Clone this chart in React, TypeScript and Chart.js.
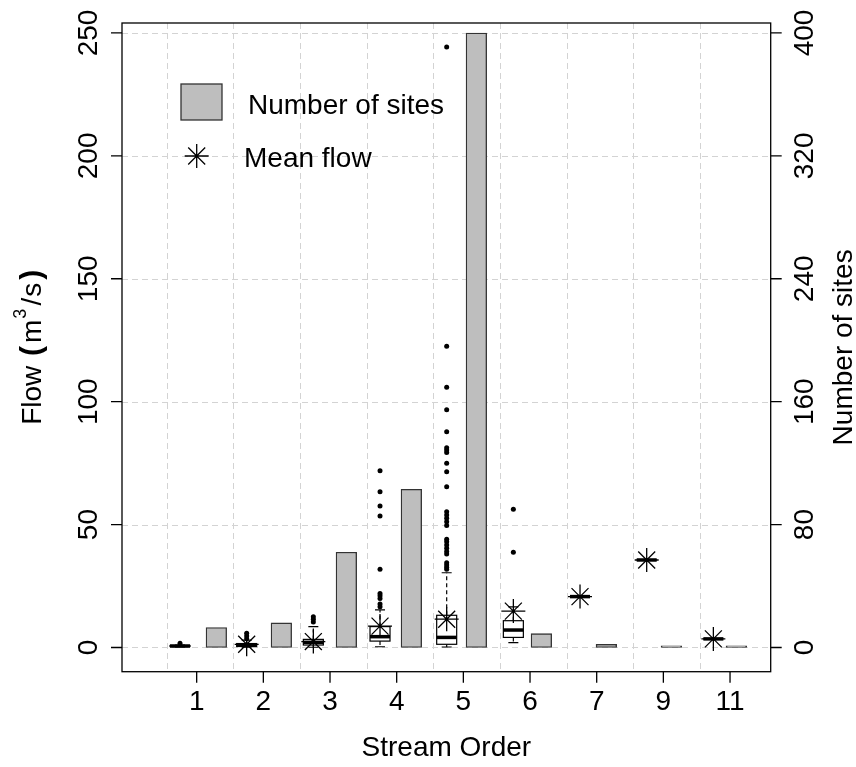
import React, { useEffect, useRef } from 'react';
import { Chart, registerables } from 'chart.js';

Chart.register(...registerables);

// ---------- data ----------
const categories = ['1', '2', '3', '4', '5', '6', '7', '9', '11'];
const siteCounts = [13, 16, 62, 103, 400, 9, 2, 1, 1];
const meanFlow: (number | null)[] = [null, 1.3, 2.4, 8.7, 11.5, 14.8, 20.7, 35.6, 3.5];
const whiskerLow = [0.2, 0.1, 0.1, 0.3, 0.2, 2.0, 20.7, 35.6, 3.5];
const quartile1 = [0.4, 0.4, 1.0, 2.6, 1.3, 4.1, 20.7, 35.6, 3.5];
const medianFlow = [0.6, 0.9, 2.1, 4.4, 4.1, 7.1, 20.7, 35.6, 3.5];
const quartile3 = [0.8, 1.6, 3.3, 8.5, 13.1, 10.9, 20.7, 35.6, 3.5];
const whiskerHigh = [1.0, 3.0, 8.5, 15.3, 30.4, 16.5, 20.7, 35.6, 3.5];
const outliers: number[][] = [
  [1.7],
  [3.6, 4.7, 5.8],
  [10.4, 11.5, 12.5],
  [16.6, 17.7, 19.9, 21.0, 22.0, 31.8, 53.5, 57.6, 63.4, 71.9],
  [31.8, 32.6, 33.6, 34.5, 38.0, 39.0, 40.4, 41.7, 43.0, 44.0, 49.6, 51.2, 52.6, 53.9, 55.2,
    65.4, 71.5, 74.9, 79.3, 80.3, 81.3, 87.8, 96.7, 105.9, 122.5, 244.3],
  [38.7, 56.2],
  [],
  [],
  [],
];
const flowTicks = [0, 50, 100, 150, 200, 250];
const siteTicks = [0, 80, 160, 240, 320, 400];
const gridX = [0, 1, 2, 3, 4, 5, 6, 7, 8];

// ---------- layout helpers ----------
const boxX = (i: number) => i + 0.2;
const barX = (i: number) => 0.745 + i * 0.975;
const tickX = (i: number) => i + 0.45;

const FONT = '"Liberation Sans", Arial, Helvetica, sans-serif';
const FS = 28;

function rotText(ctx: CanvasRenderingContext2D, text: string, x: number, y: number) {
  ctx.save();
  ctx.translate(x, y);
  ctx.rotate(-Math.PI / 2);
  ctx.textAlign = 'center';
  ctx.textBaseline = 'alphabetic';
  ctx.fillText(text, 0, 0);
  ctx.restore();
}

const gridPlugin = {
  id: 'rgrid',
  beforeDatasetsDraw(chart: any) {
    const { ctx, chartArea: a, scales } = chart;
    const x = scales.x, y = scales.y;
    ctx.save();
    ctx.strokeStyle = '#d3d3d3';
    ctx.lineWidth = 1;
    ctx.setLineDash([6, 4]);
    for (const v of flowTicks) {
      const py = Math.round(y.getPixelForValue(v)) + 0.5;
      ctx.beginPath();
      ctx.moveTo(a.left, py);
      ctx.lineTo(a.right, py);
      ctx.stroke();
    }
    for (const v of gridX) {
      const px = Math.round(x.getPixelForValue(v)) + 0.5;
      ctx.beginPath();
      ctx.moveTo(px, a.top);
      ctx.lineTo(px, a.bottom);
      ctx.stroke();
    }
    ctx.restore();
  },
};

const boxPlugin = {
  id: 'rbox',
  afterDatasetDraw(chart: any, args: any) {
    if (args.meta.type !== 'bar') return;
    const { ctx, scales } = chart;
    const x = scales.x, y = scales.y;
    ctx.save();
    ctx.strokeStyle = '#000';
    for (let i = 0; i < categories.length; i++) {
      const cx = x.getPixelForValue(boxX(i));
      const lo = y.getPixelForValue(whiskerLow[i]);
      const q1 = y.getPixelForValue(quartile1[i]);
      const md = y.getPixelForValue(medianFlow[i]);
      const q3 = y.getPixelForValue(quartile3[i]);
      const hi = y.getPixelForValue(whiskerHigh[i]);
      ctx.lineWidth = 1.2;
      ctx.setLineDash([4, 3]);
      ctx.beginPath();
      ctx.moveTo(cx, q3); ctx.lineTo(cx, hi);
      ctx.moveTo(cx, q1); ctx.lineTo(cx, lo);
      ctx.stroke();
      ctx.setLineDash([]);
      ctx.beginPath();
      ctx.moveTo(cx - 5, hi); ctx.lineTo(cx + 5, hi);
      ctx.moveTo(cx - 5, lo); ctx.lineTo(cx + 5, lo);
      ctx.stroke();
      ctx.fillStyle = '#fff';
      ctx.fillRect(cx - 10, q3, 20, q1 - q3);
      ctx.strokeRect(cx - 10, q3, 20, q1 - q3);
      ctx.lineWidth = 3.5;
      ctx.beginPath();
      ctx.moveTo(cx - 10, md); ctx.lineTo(cx + 10, md);
      ctx.stroke();
    }
    ctx.restore();
  },
};

const axesPlugin = {
  id: 'raxes',
  afterDraw(chart: any) {
    const { ctx, chartArea: a, scales } = chart;
    const x = scales.x, y = scales.y, y2 = scales.y2;
    ctx.save();
    ctx.strokeStyle = '#000';
    ctx.fillStyle = '#000';
    ctx.lineWidth = 1.3;
    ctx.setLineDash([]);
    ctx.strokeRect(a.left, a.top, a.right - a.left, a.bottom - a.top);
    ctx.font = `${FS}px ${FONT}`;
    ctx.beginPath();
    for (const v of flowTicks) {
      const py = y.getPixelForValue(v);
      ctx.moveTo(a.left - 11, py); ctx.lineTo(a.left, py);
    }
    for (const v of siteTicks) {
      const py = y2.getPixelForValue(v);
      ctx.moveTo(a.right, py); ctx.lineTo(a.right + 11, py);
    }
    for (let i = 0; i < categories.length; i++) {
      const px = x.getPixelForValue(tickX(i));
      ctx.moveTo(px, a.bottom); ctx.lineTo(px, a.bottom + 11);
    }
    ctx.stroke();
    for (const v of flowTicks) rotText(ctx, String(v), a.left - 25.5, y.getPixelForValue(v));
    for (const v of siteTicks) rotText(ctx, String(v), a.right + 42, y2.getPixelForValue(v));
    ctx.textAlign = 'center';
    ctx.textBaseline = 'alphabetic';
    for (let i = 0; i < categories.length; i++) {
      ctx.fillText(categories[i], x.getPixelForValue(tickX(i)), a.bottom + 38);
    }
    const cxMid = (a.left + a.right) / 2;
    const cyMid = (a.top + a.bottom) / 2;
    ctx.fillText('Stream Order', cxMid, a.bottom + 84);
    rotText(ctx, 'Number of sites', a.right + 81, cyMid);

    // left title "Flow (m^3/s)" in pieces
    const normal = `${FS}px ${FONT}`;
    const paren = `bold 30px ${FONT}`;
    const supF = `18px ${FONT}`;
    const pieces: [string, string, number, number][] = [
      // text, font, raise, gap after
      ['Flow', normal, 0, 0],
      [' ', normal, 0, 2],
      ['(', paren, 0, 3],
      ['m', normal, 0, 1],
      ['3', supF, -15, 3],
      ['/', normal, 0, 1],
      ['s', normal, 0, 3],
      [')', paren, 0, 0],
    ];
    let total = 0;
    const widths: number[] = [];
    for (const [t, f, , g] of pieces) {
      ctx.font = f;
      const w = ctx.measureText(t).width;
      widths.push(w);
      total += w + g;
    }
    ctx.save();
    ctx.translate(41, cyMid);
    ctx.rotate(-Math.PI / 2);
    ctx.textAlign = 'left';
    ctx.textBaseline = 'alphabetic';
    let sx = -total / 2;
    pieces.forEach(([t, f, raise, g], k) => {
      ctx.font = f;
      ctx.fillText(t, sx, raise);
      sx += widths[k] + g;
    });
    ctx.restore();

    // legend
    ctx.font = normal;
    ctx.textAlign = 'left';
    ctx.fillStyle = '#bebebe';
    ctx.fillRect(181, 84, 41, 36);
    ctx.strokeStyle = '#333';
    ctx.lineWidth = 1.3;
    ctx.strokeRect(181, 84, 41, 36);
    ctx.fillStyle = '#000';
    ctx.fillText('Number of sites', 248, 113.5);
    ctx.fillText('Mean flow', 244, 166.5);
    const sxs = 196.7, sys = 156, r = 12;
    ctx.strokeStyle = '#000';
    ctx.lineWidth = 1.3;
    ctx.beginPath();
    for (let k = 0; k < 4; k++) {
      const ang = (k * Math.PI) / 4;
      ctx.moveTo(sxs - Math.cos(ang) * r, sys - Math.sin(ang) * r);
      ctx.lineTo(sxs + Math.cos(ang) * r, sys + Math.sin(ang) * r);
    }
    ctx.stroke();
    ctx.restore();
  },
};

export default function App() {
  const ref = useRef<HTMLCanvasElement | null>(null);
  useEffect(() => {
    if (!ref.current) return;
    const barData = siteCounts.map((v, i) => ({ x: barX(i), y: v }));
    const outlierData: { x: number; y: number }[] = [];
    outliers.forEach((arr, i) => arr.forEach((v) => outlierData.push({ x: boxX(i), y: v })));
    const meanData = meanFlow
      .map((v, i) => (v === null ? null : { x: boxX(i), y: v }))
      .filter((p) => p !== null) as { x: number; y: number }[];

    const chart = new Chart(ref.current, {
      type: 'bar',
      data: {
        datasets: [
          {
            type: 'bar',
            label: 'Number of sites',
            data: barData as any,
            yAxisID: 'y2',
            xAxisID: 'x',
            backgroundColor: '#bebebe',
            borderColor: '#333',
            borderWidth: 1.3,
            borderSkipped: false,
            barThickness: 20.6,
            order: 3,
          } as any,
          {
            type: 'scatter',
            label: 'Outliers',
            data: outlierData,
            yAxisID: 'y',
            xAxisID: 'x',
            pointStyle: 'circle',
            pointRadius: 2.5,
            backgroundColor: '#000',
            borderColor: '#000',
            borderWidth: 0,
            order: 2,
          } as any,
          {
            type: 'scatter',
            label: 'Mean flow',
            data: meanData,
            yAxisID: 'y',
            xAxisID: 'x',
            pointStyle: 'star',
            pointRadius: 12,
            borderColor: '#000',
            backgroundColor: '#000',
            borderWidth: 1.3,
            order: 1,
          } as any,
        ],
      },
      options: {
        animation: false,
        responsive: false,
        layout: { padding: { left: 122, right: 85.3, top: 23, bottom: 95.3 } },
        plugins: { legend: { display: false }, tooltip: { enabled: false } },
        events: [],
        scales: {
          x: { type: 'linear', display: false, min: -0.67, max: 9.06, offset: false, grid: { display: false } },
          y: { type: 'linear', display: false, min: -9.85, max: 254.05, grid: { display: false } },
          y2: { type: 'linear', position: 'right', display: false, min: -15.76, max: 406.48, grid: { display: false } },
        },
      },
      plugins: [gridPlugin, boxPlugin, axesPlugin],
    });
    return () => chart.destroy();
  }, []);
  return (
    <div style={{ position: 'fixed', left: 0, top: 0, width: 856, height: 767, background: '#fff' }}>
      <canvas ref={ref} width={856} height={767} style={{ display: 'block', width: 856, height: 767 }} />
    </div>
  );
}
